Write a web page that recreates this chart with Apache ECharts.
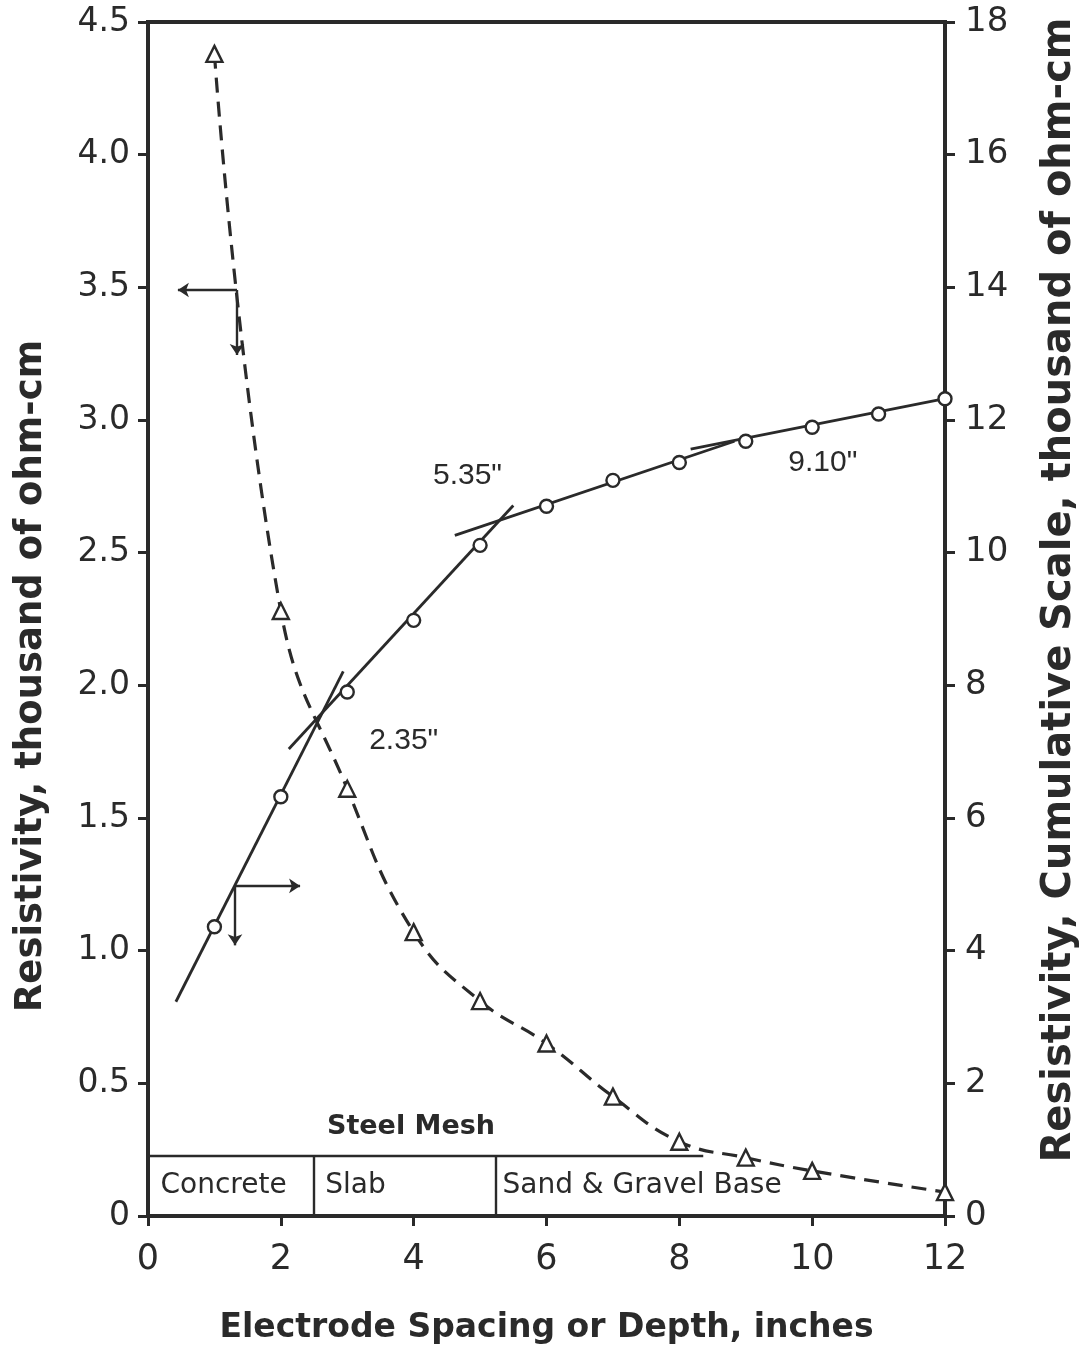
<!DOCTYPE html>
<html><head><meta charset="utf-8">
<script src="https://cdn.jsdelivr.net/npm/echarts@6/dist/echarts.min.js"></script>
<style>html,body{margin:0;padding:0;background:#fff}#c{width:1082px;height:1350px}</style>
</head><body><div id="c"></div>
<script>
// ---- data ----
const spacingX = [1, 2, 3, 4, 5, 6, 7, 8, 9, 10, 11, 12];
const cumulativeRes = [4.36, 6.32, 7.90, 8.98, 10.11, 10.70, 11.09, 11.36, 11.68, 11.89, 12.09, 12.32];
const triangleX = [1, 2, 3, 4, 5, 6, 7, 8, 9, 10, 12];
const resistivity = [4.38, 2.28, 1.61, 1.07, 0.81, 0.65, 0.45, 0.28, 0.22, 0.17, 0.09];
// straight-line fits (cumulative scale), start/end points
const fitStartX = [0.42, 2.12, 4.62, 8.17];
const fitStartY = [3.23, 7.04, 10.26, 11.56];
const fitEndX = [2.94, 5.50, 8.83, 11.98];
const fitEndY = [8.21, 10.71, 11.68, 12.32];
// break-point labels
const breakLabels = ['2.35"', '5.35"', '9.10"'];
const breakLabelX = [3.85, 4.81, 10.16];
const breakLabelY = [1.79, 2.79, 2.84];
// layers
const layerNames = ['Concrete', 'Slab', 'Sand & Gravel Base'];
const layerLabelX = [0.18, 2.66, 5.33];
const layerLabelY = 0.115;
const layerBoundaries = [2.50, 5.24];
const layerTopY = 0.228;
const layerTopEndX = 8.36;
const meshLabel = 'Steel Mesh';
const meshX = 3.96, meshY = 0.335;
// axis indicator arrows (left-scale coords)
const arrowCornerX = [1.34, 1.31];
const arrowCornerY = [3.49, 1.244];
const arrowHorizEndX = [0.45, 2.29];
const arrowVertEndY = [3.245, 1.02];
// ticks and titles
const xTickLabels = ['0', '2', '4', '6', '8', '10', '12'];
const leftTickLabels = ['0', '0.5', '1.0', '1.5', '2.0', '2.5', '3.0', '3.5', '4.0', '4.5'];
const rightTickLabels = ['0', '2', '4', '6', '8', '10', '12', '14', '16', '18'];
const xTitle = 'Electrode Spacing or Depth, inches';
const leftTitle = 'Resistivity, thousand of ohm-cm';
const rightTitle = 'Resistivity, Cumulative Scale, thousand of ohm-cm';

// ---- chart ----
const INK = '#2a2a2a';
const chart = echarts.init(document.getElementById('c'), null, {renderer: 'canvas'});

const markLines = [];
for (let i = 0; i < arrowCornerX.length; i++) {
  markLines.push([{coord: [arrowCornerX[i], arrowCornerY[i]], symbol: 'none'},
                  {coord: [arrowHorizEndX[i], arrowCornerY[i]], symbol: 'arrow'}]);
  markLines.push([{coord: [arrowCornerX[i], arrowCornerY[i]], symbol: 'none'},
                  {coord: [arrowCornerX[i], arrowVertEndY[i]], symbol: 'arrow'}]);
}
markLines.push([{coord: [0, layerTopY], symbol: 'none'}, {coord: [layerTopEndX, layerTopY], symbol: 'none'}]);
layerBoundaries.forEach(b => markLines.push([{coord: [b, 0], symbol: 'none'}, {coord: [b, layerTopY], symbol: 'none'}]));

const markPoints = [];
breakLabels.forEach((t, i) => markPoints.push({name: t, coord: [breakLabelX[i], breakLabelY[i]],
  label: {position: 'inside', fontSize: 30, fontFamily: 'Liberation Sans'}}));
layerNames.forEach((t, i) => markPoints.push({name: t, coord: [layerLabelX[i], layerLabelY],
  label: {position: 'right', distance: 0, fontSize: 28, fontFamily: 'DejaVu Sans'}}));
markPoints.push({name: meshLabel, coord: [meshX, meshY],
  label: {position: 'inside', fontSize: 27, fontWeight: 600, fontFamily: 'DejaVu Sans'}});

const series = [];
fitStartX.forEach((x, i) => series.push({
  type: 'line', xAxisIndex: 0, yAxisIndex: 1, symbol: 'none', silent: true,
  data: [[x, fitStartY[i]], [fitEndX[i], fitEndY[i]]],
  lineStyle: {color: INK, width: 2.8}, z: 3
}));
series.push({
  type: 'scatter', xAxisIndex: 0, yAxisIndex: 1, symbol: 'circle', symbolSize: 13,
  data: spacingX.map((x, i) => [x, cumulativeRes[i]]),
  itemStyle: {color: '#fff', opacity: 1, borderColor: INK, borderWidth: 2.4}, z: 5
});
series.push({
  type: 'line', xAxisIndex: 0, yAxisIndex: 0, smooth: 0.45,
  symbol: 'triangle', symbolSize: 16, showAllSymbol: true,
  data: triangleX.map((x, i) => [x, resistivity[i]]),
  lineStyle: {color: INK, width: 3.2, type: [15, 9]},
  itemStyle: {color: '#fff', opacity: 1, borderColor: INK, borderWidth: 2.4}, z: 4,
  markLine: {silent: true, animation: false, label: {show: false}, symbolSize: 11,
    lineStyle: {color: INK, width: 2.4, type: 'solid'}, emphasis: {disabled: true}, data: markLines},
  markPoint: {silent: true, animation: false, symbol: 'circle', symbolSize: 1,
    itemStyle: {color: 'rgba(0,0,0,0)'},
    label: {show: true, formatter: '{b}', color: INK}, data: markPoints}
});

const tickStyle = {show: true, length: 10, lineStyle: {color: INK, width: 3}};
chart.setOption({
  animation: false,
  backgroundColor: '#fff',
  grid: {left: 148, right: 137, top: 22, bottom: 133, show: true, borderColor: INK, borderWidth: 4},
  xAxis: [{
    type: 'value', min: 0, max: 12, interval: 2,
    axisLine: {show: true, onZero: false, lineStyle: {color: INK, width: 4}},
    axisTick: tickStyle, splitLine: {show: false},
    axisLabel: {color: INK, fontSize: 35, fontFamily: 'DejaVu Sans', margin: 26,
      formatter: v => xTickLabels[Math.round(v / 2)]},
    name: xTitle, nameLocation: 'middle', nameGap: 96,
    nameTextStyle: {color: INK, fontSize: 33, fontWeight: 'bold', fontFamily: 'DejaVu Sans'}
  }],
  yAxis: [{
    type: 'value', min: 0, max: 4.5, interval: 0.5, position: 'left',
    axisLine: {show: true, onZero: false, lineStyle: {color: INK, width: 4}},
    axisTick: tickStyle, splitLine: {show: false},
    axisLabel: {color: INK, fontSize: 33, fontFamily: 'DejaVu Sans', margin: 18,
      formatter: v => leftTickLabels[Math.round(v / 0.5)]}
  }, {
    type: 'value', min: 0, max: 18, interval: 2, position: 'right',
    axisLine: {show: true, onZero: false, lineStyle: {color: INK, width: 4}},
    axisTick: tickStyle, splitLine: {show: false},
    axisLabel: {color: INK, fontSize: 34, fontFamily: 'DejaVu Sans', margin: 20,
      formatter: v => rightTickLabels[Math.round(v / 2)]}
  }],
  graphic: [
    {type: 'text', x: 31, y: 676, rotation: Math.PI / 2, silent: true,
     style: {text: leftTitle, fill: INK, font: 'bold 37px "DejaVu Sans"', align: 'center', verticalAlign: 'middle'}},
    {type: 'text', x: 1060, y: 590, rotation: Math.PI / 2, silent: true,
     style: {text: rightTitle, fill: INK, font: 'bold 40px "DejaVu Sans"', align: 'center', verticalAlign: 'middle'}}
  ],
  series: series
});
</script>
</body></html>
